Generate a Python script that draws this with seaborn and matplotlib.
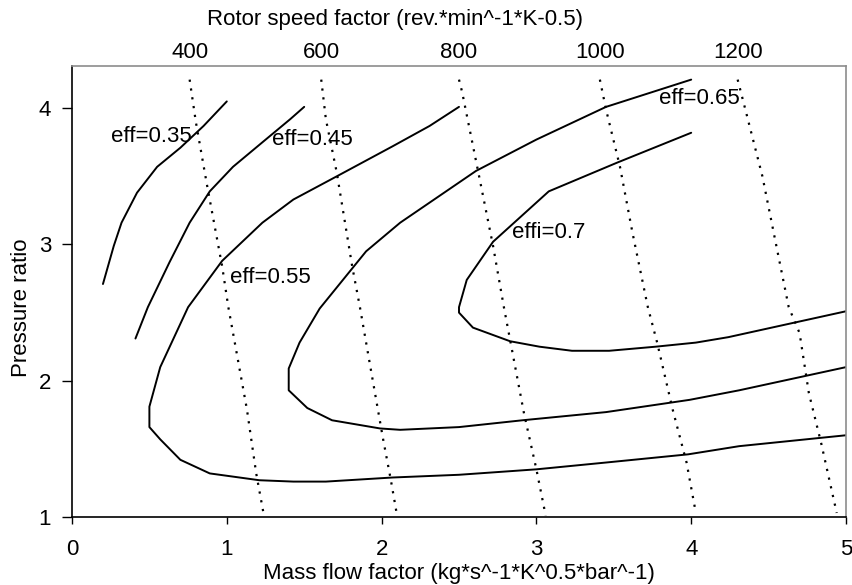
import matplotlib
matplotlib.use("Agg")
import matplotlib.pyplot as plt
import matplotlib.transforms as mtransforms
import seaborn as sns

# efficiency lines (mass flow factor, pressure ratio)
eff035_x = [0.20, 0.27, 0.32, 0.42, 0.55, 0.70, 0.85, 1.00]
eff035_y = [2.71, 2.99, 3.16, 3.38, 3.57, 3.71, 3.87, 4.05]

eff045_x = [0.41, 0.49, 0.63, 0.76, 0.89, 1.04, 1.23, 1.41, 1.50]
eff045_y = [2.31, 2.54, 2.87, 3.16, 3.39, 3.57, 3.75, 3.92, 4.01]

eff055_x = [2.50, 2.31, 2.07, 1.71, 1.43, 1.23, 0.97, 0.75, 0.57, 0.50, 0.50, 0.57,
            0.70, 0.89, 1.21, 1.43, 1.64, 2.07, 2.50, 3.00, 3.45, 3.98, 4.31, 5.00]
eff055_y = [4.01, 3.87, 3.72, 3.50, 3.33, 3.16, 2.88, 2.54, 2.10, 1.81, 1.66, 1.57,
            1.42, 1.32, 1.27, 1.26, 1.26, 1.29, 1.31, 1.35, 1.40, 1.46, 1.52, 1.60]

eff065_x = [4.00, 3.45, 3.00, 2.61, 2.12, 1.90, 1.75, 1.60, 1.47, 1.40, 1.40, 1.52,
            1.68, 1.99, 2.12, 2.50, 2.91, 3.45, 3.99, 4.31, 5.00]
eff065_y = [4.21, 4.01, 3.77, 3.54, 3.16, 2.95, 2.74, 2.53, 2.28, 2.09, 1.93, 1.80,
            1.71, 1.65, 1.64, 1.66, 1.71, 1.77, 1.86, 1.93, 2.10]

eff070_x = [4.00, 3.52, 3.08, 2.72, 2.55, 2.50, 2.50, 2.59, 2.83, 3.02, 3.23, 3.47,
            3.77, 4.03, 4.24, 5.00]
eff070_y = [3.82, 3.60, 3.39, 3.02, 2.74, 2.54, 2.50, 2.39, 2.29, 2.25, 2.22, 2.22,
            2.25, 2.28, 2.32, 2.51]

# constant rotor speed lines
speed_labels = ["400", "600", "800", "1000", "1200"]
speed400_x = [0.76, 0.80, 0.87, 0.97, 1.01, 1.13, 1.19, 1.24]
speed400_y = [4.21, 3.90, 3.45, 2.84, 2.54, 1.79, 1.32, 1.01]
speed600_x = [1.61, 1.64, 1.71, 1.81, 1.86, 1.92, 2.01, 2.06, 2.10]
speed600_y = [4.21, 3.92, 3.53, 2.84, 2.54, 2.15, 1.57, 1.27, 1.01]
speed800_x = [2.50, 2.52, 2.63, 2.72, 2.79, 2.83, 2.92, 3.00, 3.06]
speed800_y = [4.21, 4.12, 3.50, 2.99, 2.54, 2.30, 1.76, 1.35, 1.01]
speed1000_x = [3.41, 3.45, 3.54, 3.62, 3.72, 3.78, 3.88, 3.97, 4.03]
speed1000_y = [4.21, 3.99, 3.57, 3.09, 2.54, 2.28, 1.79, 1.40, 1.03]
speed1200_x = [4.30, 4.35, 4.46, 4.55, 4.63, 4.70, 4.76, 4.84, 4.94]
speed1200_y = [4.21, 3.99, 3.50, 2.99, 2.54, 2.35, 1.91, 1.54, 1.03]

eff_labels = ["eff=0.35", "eff=0.45", "eff=0.55", "eff=0.65", "effi=0.7"]
eff_label_x = [0.25, 1.29, 1.02, 3.79, 2.84]
eff_label_y = [3.79, 3.77, 2.76, 4.07, 3.09]

sns.set_style("white")
plt.rcParams["font.family"] = ["Liberation Sans", "DejaVu Sans"]
plt.rcParams.update({"text.color": "black", "axes.labelcolor": "black",
                     "xtick.color": "black", "ytick.color": "black"})

fig = plt.figure(figsize=(8.53, 5.85), dpi=100)
ax = fig.add_axes([0.0844, 0.1162, 0.9074, 0.7710])

effs = [(eff035_x, eff035_y), (eff045_x, eff045_y), (eff055_x, eff055_y),
        (eff065_x, eff065_y), (eff070_x, eff070_y)]
for xs, ys in effs:
    sns.lineplot(x=xs, y=ys, sort=False, estimator=None, color="black",
                 linewidth=1.4, ax=ax)

speeds = [(speed400_x, speed400_y), (speed600_x, speed600_y), (speed800_x, speed800_y),
          (speed1000_x, speed1000_y), (speed1200_x, speed1200_y)]
for xs, ys in speeds:
    sns.lineplot(x=xs, y=ys, sort=False, estimator=None, color="black",
                 linewidth=1.6, linestyle=(0, (1, 3)), ax=ax)

for lab, lx, ly in zip(eff_labels, eff_label_x, eff_label_y):
    ax.text(lx, ly, lab, fontsize=16, ha="left", va="center")

# speed values above the top of each speed line
trans = mtransforms.blended_transform_factory(ax.transData, ax.transAxes)
for lab, (xs, ys) in zip(speed_labels, speeds):
    ax.text(xs[0], 1.03, lab, fontsize=16, ha="center", va="center",
            transform=trans, clip_on=False)
fig.text(395 / 853, 1 - 20 / 585, "Rotor speed factor (rev.*min^-1*K-0.5)",
         fontsize=16, ha="center", va="center")

ax.set_xlim(0, 5)
ax.set_ylim(1, 4.31)
ax.set_xticks([0, 1, 2, 3, 4, 5])
ax.set_yticks([1, 2, 3, 4])
ax.tick_params(axis="x", direction="out", length=5, width=1, pad=11, labelsize=16)
ax.tick_params(axis="y", direction="out", length=7, width=1, pad=8, labelsize=16)
ax.tick_params(bottom=True, left=True)
ax.set_xlabel("Mass flow factor (kg*s^-1*K^0.5*bar^-1)", fontsize=16, labelpad=2)
ax.set_ylabel("Pressure ratio", fontsize=16, labelpad=5)
ax.yaxis.label.set_y(0.463)

for side in ["left", "bottom"]:
    ax.spines[side].set_color("black")
    ax.spines[side].set_linewidth(1.2)
for side in ["top", "right"]:
    ax.spines[side].set_color("#8c8c8c")
    ax.spines[side].set_linewidth(1.2)

fig.savefig("out.png", dpi=100)
